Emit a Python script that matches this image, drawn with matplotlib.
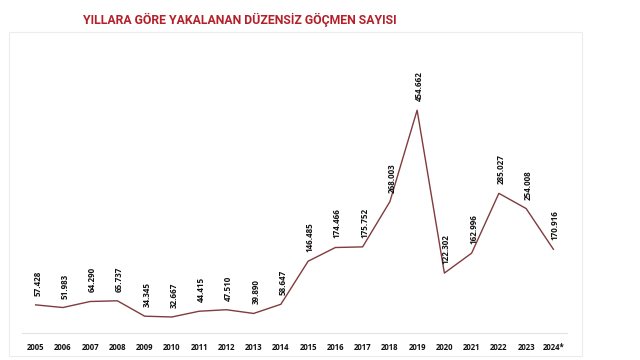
import matplotlib
matplotlib.use("Agg")
import matplotlib.pyplot as plt
from matplotlib.patches import Rectangle

years = ["2005", "2006", "2007", "2008", "2009", "2010", "2011", "2012", "2013", "2014",
         "2015", "2016", "2017", "2018", "2019", "2020", "2021", "2022", "2023", "2024*"]
counts = [57428, 51983, 64290, 65737, 34345, 32667, 44415, 47510, 39890, 58647,
          146485, 174466, 175752, 268003, 454662, 122302, 162996, 285027, 254008, 170916]
labels = ["57.428", "51.983", "64.290", "65.737", "34.345", "32.667", "44.415", "47.510",
          "39.890", "58.647", "146.485", "174.466", "175.752", "268.003", "454.662",
          "122.302", "162.996", "285.027", "254.008", "170.916"]

W, H = 640, 360
fig = plt.figure(figsize=(6.4, 3.6), dpi=100)
fig.patch.set_facecolor("white")

# light frame around the chart
fig.patches.append(Rectangle((9 / W, 1 - 356 / H), 573 / W, 324 / H, transform=fig.transFigure,
                             fill=False, edgecolor="#ececec", linewidth=0.8))

fig.text(240 / W, 1 - 20 / H, "YILLARA GÖRE YAKALANAN DÜZENSİZ GÖÇMEN SAYISI",
         ha="center", va="center", color="#b3202a", fontsize=8.8, fontweight="bold",
         family=["Roboto", "DejaVu Sans"])

ax = fig.add_axes([22 / W, 1 - 333 / H, 545 / W, 245 / H])
x = list(range(len(years)))
ax.plot(x, counts, color="#7f3b3d", linewidth=1.0)
ax.set_xlim(-0.5, len(years) - 0.5)
ax.set_ylim(0, 500000)

lab_font = ["Open Sans", "DejaVu Sans"]
for xi, v, lab in zip(x, counts, labels):
    ax.annotate(lab, (xi, v), xytext=(1.5, 6.5), textcoords="offset points",
                rotation=90, ha="center", va="bottom", fontsize=5.8, fontweight="bold",
                family=lab_font, color="#111111", annotation_clip=False)

ax.set_xticks(x)
ax.set_xticklabels(years, fontsize=5.6, fontweight="bold", family=lab_font, color="#111111")
ax.tick_params(axis="x", length=0, pad=7)
ax.set_yticks([])
for s in ["top", "left", "right"]:
    ax.spines[s].set_visible(False)
ax.spines["bottom"].set_color("#e3e3e3")
ax.spines["bottom"].set_linewidth(0.8)
ax.patch.set_alpha(0)

fig.savefig("out.png", dpi=100)
